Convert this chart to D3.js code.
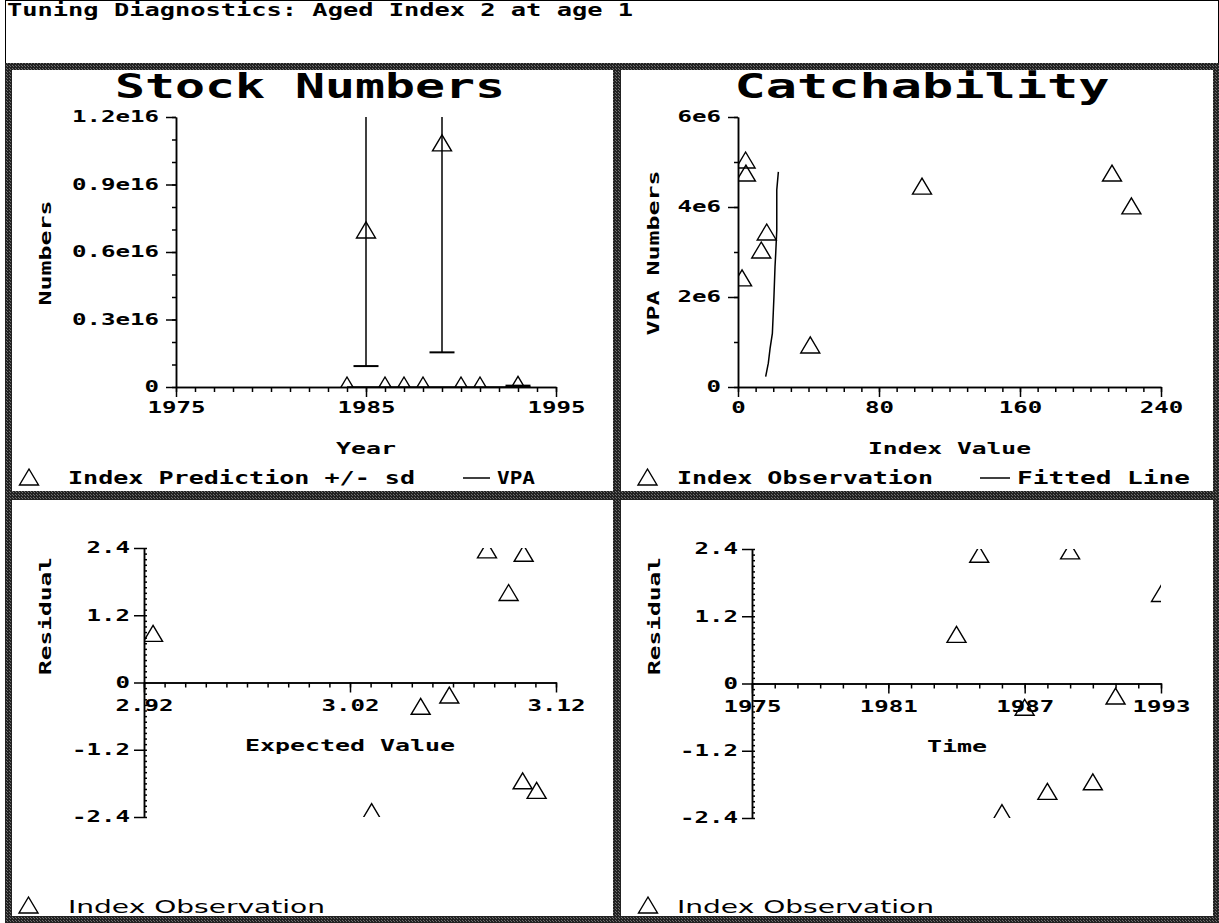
<!DOCTYPE html>
<html lang="en">
<head>
<meta charset="UTF-8">
<title>Tuning Diagnostics</title>
<script src="https://d3js.org/d3.v7.min.js"></script>
<style>
  body { margin: 0; background: #fff; }
  text { font-family: "DejaVu Sans Mono", monospace; font-weight: bold; fill: #000; }
  .axis path, .axis line { stroke: #000; stroke-width: 1.5; }
</style>
</head>
<body>
<script>
// ---- data ----
const years       = [1984, 1985, 1986, 1987, 1988, 1989, 1990, 1991, 1993];
const indexPred   = [0, 0.689e16, 0, 0, 0, 1.076e16, 0, 0, 0.003e16];
const predSd      = [0, 0.596e16, 0, 0, 0, 0.922e16, 0, 0, 0.003e16];
const vpaNumbers  = [0.89e6, 4.71e6, 2.38e6, 3.0e6, 5.0e6, 3.98e6, 4.71e6, 3.40e6, 4.42e6];
const indexObs    = [41, 212.2, 2.3, 13.2, 4.3, 223.2, 4.5, 16.3, 104.4];
const expected    = [2.9244, 3.1043, 3.0305, 3.0543, 3.1106, 3.0865, 3.1038, 3.0682, 3.097];
const residuals   = [0.84, 2.27, -2.34, -0.46, -1.96, 2.33, -1.79, -0.26, 1.57];
const fitIndex    = [15.7, 17.2, 18.2, 19.5, 20.0, 20.4, 21.0, 21.4, 22.0, 22.0, 22.9];
const fitVpa      = [0.23e6, 0.53e6, 0.86e6, 1.19e6, 1.64e6, 2.01e6, 2.67e6, 2.97e6, 3.49e6, 4.38e6, 4.78e6];

const stockTicks  = [0, 0.3e16, 0.6e16, 0.9e16, 1.2e16];
const stockLabels = ["0", "0.3e16", "0.6e16", "0.9e16", "1.2e16"];
const yearTicks   = [1975, 1985, 1995];
const vpaTicks    = [0, 2e6, 4e6, 6e6];
const vpaLabels   = ["0", "2e6", "4e6", "6e6"];
const idxTicks    = [0, 80, 160, 240];
const resTicks    = [-2.4, -1.2, 0, 1.2, 2.4];
const resLabels   = ["-2.4", "-1.2", "0", "1.2", "2.4"];
const expTicks    = [2.92, 3.02, 3.12];
const timeTicks   = [1975, 1981, 1987, 1993];

const svg = d3.select("body").append("svg").attr("width", 1219).attr("height", 923);
const defs = svg.append("defs");

// stippled dark frame like the old screen dump
const pat = defs.append("pattern").attr("id", "stipple")
  .attr("width", 3).attr("height", 3).attr("patternUnits", "userSpaceOnUse");
pat.append("rect").attr("width", 3).attr("height", 3).attr("fill", "#222");
[[1, 0], [0, 2]].forEach(p => {
  pat.append("rect").attr("x", p[0]).attr("y", p[1]).attr("width", 1).attr("height", 1).attr("fill", "#6e6e6e");
});

svg.append("rect").attr("x", 5.5).attr("y", 0.5).attr("width", 1213).attr("height", 63)
  .attr("fill", "#fff").attr("stroke", "#000");
svg.append("rect").attr("x", 5).attr("y", 63).attr("width", 1214).attr("height", 860).attr("fill", "url(#stipple)");
[[12, 70, 601, 421], [621, 70, 592, 421], [12, 500, 601, 416], [621, 500, 592, 416]].forEach(r => {
  svg.append("rect").attr("x", r[0]).attr("y", r[1]).attr("width", r[2]).attr("height", r[3]).attr("fill", "#fff");
});

function stretch(sel, perChar) {
  sel.each(function() {
    const t = d3.select(this);
    const n = t.text().length;
    if (n) t.attr("textLength", n * perChar).attr("lengthAdjust", "spacingAndGlyphs");
  });
}

function label(x, y, txt, size, len, anchor, rot) {
  const t = svg.append("text")
    .attr("transform", "translate(" + x + "," + y + ")" + (rot ? " rotate(-90)" : ""))
    .attr("text-anchor", anchor || "middle")
    .style("font-size", size + "px")
    .text(txt);
  if (len) t.attr("textLength", len).attr("lengthAdjust", "spacingAndGlyphs");
  return t;
}

const tri = "M0,-10L9.5,6L-9.5,6Z";

function clip(id, x, y) {
  defs.append("clipPath").attr("id", id).append("rect")
    .attr("x", x.range()[0]).attr("y", y.range()[1])
    .attr("width", x.range()[1] - x.range()[0]).attr("height", y.range()[0] - y.range()[1]);
  return svg.append("g").attr("clip-path", "url(#" + id + ")");
}

function axes(x, y, o) {
  // minor y ticks
  svg.append("g").attr("class", "axis")
    .attr("transform", "translate(" + x.range()[0] + ",0)")
    .call((o.minorRight ? d3.axisRight(y) : d3.axisLeft(y))
      .tickValues(o.yMinor).tickSize(o.minorRight ? 3 : 4).tickSizeOuter(0).tickFormat(""));
  const ya = svg.append("g").attr("class", "axis")
    .attr("transform", "translate(" + x.range()[0] + ",0)")
    .call(d3.axisLeft(y).tickValues(o.yTicks).tickSize(10).tickSizeOuter(0)
      .tickPadding(o.yPad).tickFormat((d, i) => o.yLabels[i]));
  stretch(ya.selectAll("text").style("font-size", "15px"), 14.5);

  svg.append("g").attr("class", "axis")
    .attr("transform", "translate(0," + o.xAt + ")")
    .call(d3.axisBottom(x).tickValues(o.xMinor).tickSize(5).tickSizeOuter(0).tickFormat(""));
  const xa = svg.append("g").attr("class", "axis")
    .attr("transform", "translate(0," + o.xAt + ")")
    .call(d3.axisBottom(x).tickValues(o.xTicks).tickSize(10).tickSizeOuter(0)
      .tickPadding(o.xPad).tickFormat(o.xFormat));
  stretch(xa.selectAll("text").style("font-size", "15px"), 14.5);
  svg.selectAll(".axis .domain").attr("stroke-width", 2);
}

function legendTri(cx, cy) {
  svg.append("path").attr("d", tri).attr("transform", "translate(" + cx + "," + cy + ")")
    .attr("fill", "none").attr("stroke", "#000").attr("stroke-width", 1.4);
}

// ---- Panel 1: Stock Numbers ----
const x1 = d3.scaleLinear().domain([1975, 1995]).range([176, 556]);
const y1 = d3.scaleLinear().domain([0, 1.2e16]).range([387, 117]);
label(310, 98, "Stock Numbers", 34, 390);
axes(x1, y1, {
  yTicks: stockTicks, yLabels: stockLabels, yMinor: d3.range(0, 13).map(i => i * 0.1e16), yPad: 7,
  xTicks: yearTicks, xMinor: d3.range(1975, 1996), xAt: 387, xPad: 5, xFormat: d => String(d)
});
const g1 = clip("c1", x1, y1);
g1.append("path").datum(years.map((d, i) => [d, vpaNumbers[i]]))
  .attr("fill", "none").attr("stroke", "#000").attr("stroke-width", 1.5)
  .attr("d", d3.line().x(d => x1(d[0])).y(d => y1(d[1])));
years.forEach((yr, i) => {
  if (predSd[i] <= 0) return;
  const lo = y1(indexPred[i] - predSd[i]), hi = y1(indexPred[i] + predSd[i]), cx = x1(yr);
  g1.append("line").attr("x1", cx).attr("x2", cx).attr("y1", lo).attr("y2", hi)
    .attr("stroke", "#000").attr("stroke-width", 1.5);
  [lo, hi].forEach(v => g1.append("line").attr("x1", cx - 12.5).attr("x2", cx + 12.5)
    .attr("y1", v).attr("y2", v).attr("stroke", "#000").attr("stroke-width", 2));
});
g1.selectAll(".pt").data(years).enter().append("path")
  .attr("d", tri).attr("transform", (d, i) => "translate(" + x1(d) + "," + y1(indexPred[i]) + ")")
  .attr("fill", "none").attr("stroke", "#000").attr("stroke-width", 1.4);
label(45, 253, "Numbers", 16, 105, "middle", true).attr("dy", "0.35em");
label(366, 454, "Year", 16, 60);
legendTri(29, 479);
label(68, 484, "Index Prediction +/- sd", 17, 347, "start");
svg.append("line").attr("x1", 463).attr("x2", 490).attr("y1", 478).attr("y2", 478).attr("stroke", "#000").attr("stroke-width", 1.5);
label(497, 484, "VPA", 17, 38, "start");

// ---- Panel 2: Catchability ----
const x2 = d3.scaleLinear().domain([0, 240]).range([738, 1161]);
const y2 = d3.scaleLinear().domain([0, 6e6]).range([387, 117]);
label(922, 98, "Catchability", 34, 375);
axes(x2, y2, {
  yTicks: vpaTicks, yLabels: vpaLabels, yMinor: d3.range(0, 7).map(i => i * 1e6), yPad: 7,
  xTicks: idxTicks, xMinor: d3.range(0, 241, 10), xAt: 387, xPad: 5, xFormat: d => String(d)
});
const g2 = clip("c2", x2, y2);
g2.append("path").datum(fitIndex.map((d, i) => [d, fitVpa[i]]))
  .attr("fill", "none").attr("stroke", "#000").attr("stroke-width", 1.5)
  .attr("d", d3.line().x(d => x2(d[0])).y(d => y2(d[1])));
g2.selectAll(".pt").data(indexObs).enter().append("path")
  .attr("d", tri).attr("transform", (d, i) => "translate(" + x2(d) + "," + y2(vpaNumbers[i]) + ")")
  .attr("fill", "none").attr("stroke", "#000").attr("stroke-width", 1.4);
label(653, 253, "VPA Numbers", 16, 165, "middle", true).attr("dy", "0.35em");
label(949.5, 454, "Index Value", 16, 163);
legendTri(647.5, 479);
label(677, 484, "Index Observation", 17, 256, "start");
svg.append("line").attr("x1", 980).attr("x2", 1010).attr("y1", 478).attr("y2", 478).attr("stroke", "#000").attr("stroke-width", 1.5);
label(1017, 484, "Fitted Line", 17, 173, "start");

// ---- Panel 3: residuals vs expected value ----
const x3 = d3.scaleLinear().domain([2.92, 3.12]).range([144, 556]);
const y3 = d3.scaleLinear().domain([-2.4, 2.4]).range([817, 548]);
const resMinor = d3.range(-24, 25).map(i => i / 10);
axes(x3, y3, {
  yTicks: resTicks, yLabels: resLabels, yMinor: resMinor, yPad: 4, minorRight: true,
  xTicks: expTicks, xMinor: d3.range(0, 21).map(i => 2.92 + i * 0.01), xAt: y3(0), xPad: 8,
  xFormat: d3.format(".2f")
});
const g3 = clip("c3", x3, y3);
g3.selectAll(".pt").data(expected).enter().append("path")
  .attr("d", tri).attr("transform", (d, i) => "translate(" + x3(d) + "," + y3(residuals[i]) + ")")
  .attr("fill", "none").attr("stroke", "#000").attr("stroke-width", 1.4);
label(45, 616, "Residual", 16, 118, "middle", true).attr("dy", "0.35em");
label(350, 751, "Expected Value", 16, 210);
legendTri(28.5, 907);
label(68, 913, "Index Observation", 17, 257, "start").style("font-family", "'DejaVu Sans', sans-serif").style("font-weight", "normal");

// ---- Panel 4: residuals vs time ----
const x4 = d3.scaleLinear().domain([1975, 1993]).range([752, 1161]);
const y4 = d3.scaleLinear().domain([-2.4, 2.4]).range([818, 549]);
axes(x4, y4, {
  yTicks: resTicks, yLabels: resLabels, yMinor: resMinor, yPad: 4, minorRight: true,
  xTicks: timeTicks, xMinor: d3.range(1975, 1994), xAt: y4(0), xPad: 8, xFormat: d => String(d)
});
const g4 = clip("c4", x4, y4);
g4.selectAll(".pt").data(years).enter().append("path")
  .attr("d", tri).attr("transform", (d, i) => "translate(" + x4(d) + "," + y4(residuals[i]) + ")")
  .attr("fill", "none").attr("stroke", "#000").attr("stroke-width", 1.4);
label(654, 616, "Residual", 16, 118, "middle", true).attr("dy", "0.35em");
label(957, 752, "Time", 16, 60);
legendTri(648, 907);
label(677, 913, "Index Observation", 17, 257, "start").style("font-family", "'DejaVu Sans', sans-serif").style("font-weight", "normal");

// ---- window title ----
label(7, 16, "Tuning Diagnostics: Aged Index 2 at age 1", 17, 626, "start");
</script>
</body>
</html>
